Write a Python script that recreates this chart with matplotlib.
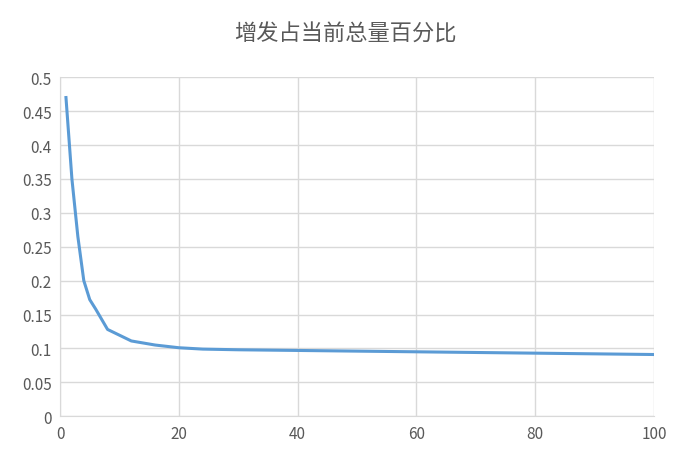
import matplotlib.pyplot as plt

plt.rcParams['font.family'] = ['Noto Sans CJK SC', 'DejaVu Sans']

days = [1, 2, 3, 4, 5, 6, 8, 12, 16, 20, 24, 30, 40, 50, 60, 70, 80, 90, 100]
ratio = [0.47, 0.35, 0.265, 0.2, 0.172, 0.158, 0.128, 0.111, 0.105, 0.101, 0.099,
         0.098, 0.097, 0.096, 0.095, 0.094, 0.093, 0.092, 0.091]

fig, ax = plt.subplots(figsize=(6.9, 4.6), dpi=100)
fig.subplots_adjust(left=0.087, right=0.948, top=0.83, bottom=0.093)
ax.plot(days, ratio, color='#5b9bd5', linewidth=2.2)
ax.set_xlim(0, 100)
ax.set_ylim(0, 0.5)
ax.set_xticks(range(0, 101, 20))
ax.set_yticks([i * 0.05 for i in range(11)])
ax.set_yticklabels(['0', '0.05', '0.1', '0.15', '0.2', '0.25', '0.3', '0.35', '0.4', '0.45', '0.5'])
ax.grid(color='#d9d9d9', linewidth=1)
ax.set_axisbelow(True)
for s in ['top', 'right']:
    ax.spines[s].set_visible(False)
ax.spines['left'].set_color('#d9d9d9')
ax.spines['bottom'].set_color('#d9d9d9')
ax.tick_params(length=0, labelsize=11, colors='#595959', pad=6)
fig.suptitle('增发占当前总量百分比', fontsize=16, color='#595959', y=0.95)
fig.savefig('out.png')
